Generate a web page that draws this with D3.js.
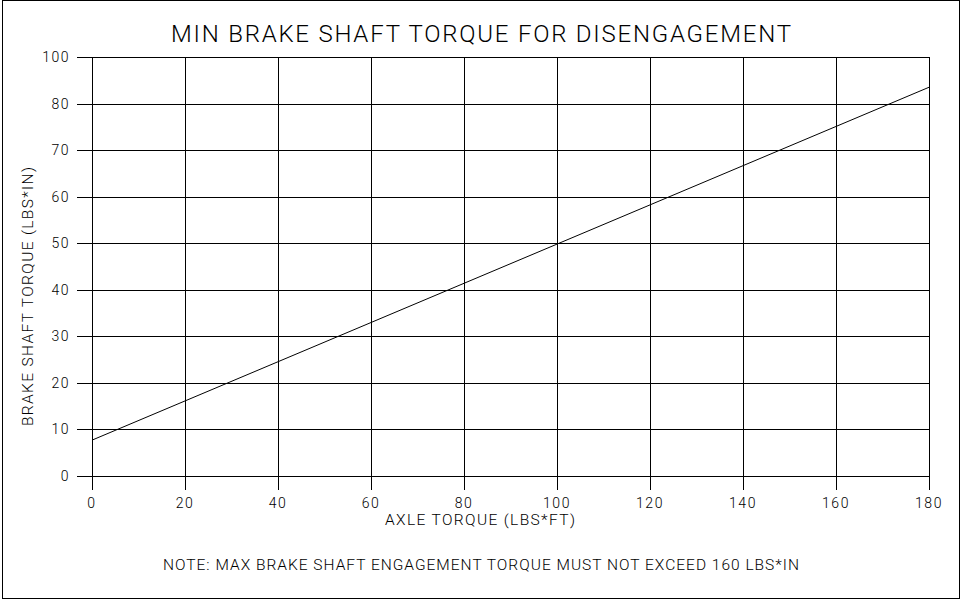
<!DOCTYPE html>
<html>
<head>
<meta charset="utf-8">
<script src="https://cdn.jsdelivr.net/npm/d3@7"></script>
<style>
  body { margin: 0; background: #fff; }
  svg text { font-family: "Roboto", "DejaVu Sans Condensed", sans-serif; font-weight: 300; fill: #000; }
</style>
</head>
<body>
<svg id="canvas" width="964" height="603"></svg>
<script>
const svg = d3.select("#canvas");

// data
const xTicks = [0, 20, 40, 60, 80, 100, 120, 140, 160, 180];
const yTicks = [0, 10, 20, 30, 40, 50, 60, 70, 80, 90];
const yTickLabels = ["0", "10", "20", "30", "40", "50", "60", "70", "80", "100"]; // top line is labelled 100 in the original
const axleTorque = [0, 180];
const brakeTorque = [7.7, 83.5];

const titleText = "MIN BRAKE SHAFT TORQUE FOR DISENGAGEMENT";
const xLabel = "AXLE TORQUE (LBS*FT)";
const yLabel = "BRAKE SHAFT TORQUE (LBS*IN)";
const noteText = "NOTE: MAX BRAKE SHAFT ENGAGEMENT TORQUE MUST NOT EXCEED 160 LBS*IN";

const plotL = 92, plotR = 929, plotT = 57, plotB = 476;

const x = d3.scaleLinear().domain([0, 180]).range([plotL, plotR]);
const y = d3.scaleLinear().domain([0, 90]).range([plotB, plotT]);

// outer frame
svg.append("rect")
    .attr("x", 2.5).attr("y", 0.5)
    .attr("width", 957).attr("height", 598)
    .attr("fill", "none").attr("stroke", "#000").attr("stroke-width", 1);

// grid
svg.selectAll(".vgrid")
    .data(xTicks)
    .enter()
    .append("line")
    .attr("x1", d => Math.round(x(d)) + 0.5)
    .attr("x2", d => Math.round(x(d)) + 0.5)
    .attr("y1", plotT)
    .attr("y2", plotB + 14)
    .attr("stroke", "#000");

svg.selectAll(".hgrid")
    .data(yTicks)
    .enter()
    .append("line")
    .attr("x1", plotL - 15)
    .attr("x2", plotR)
    .attr("y1", d => Math.round(y(d)) + 0.5)
    .attr("y2", d => Math.round(y(d)) + 0.5)
    .attr("stroke", "#000");

// tick labels
svg.selectAll(".xlab")
    .data(xTicks)
    .enter()
    .append("text")
    .attr("x", d => x(d))
    .attr("y", plotB + 32)
    .attr("text-anchor", "middle")
    .attr("font-size", 14)
    .attr("letter-spacing", 1.5)
    .text(d => d);

svg.selectAll(".ylab")
    .data(yTicks)
    .enter()
    .append("text")
    .attr("x", plotL - 22)
    .attr("y", d => y(d) + 5)
    .attr("text-anchor", "end")
    .attr("font-size", 14)
    .attr("letter-spacing", 1.5)
    .text((d, i) => yTickLabels[i]);

// curve
svg.append("path")
    .datum(axleTorque.map((a, i) => ({ a, b: brakeTorque[i] })))
    .attr("fill", "none")
    .attr("stroke", "#000")
    .attr("stroke-width", 1)
    .attr("d", d3.line().x(d => x(d.a)).y(d => y(d.b)));

// texts, stretched to the widths measured on the drawing
function label(txt, x0, len, base, size) {
    return svg.append("text")
        .attr("x", x0).attr("y", base)
        .attr("font-size", size)
        .attr("textLength", len)
        .attr("lengthAdjust", "spacing")
        .text(txt);
}

label(titleText, 171, 620, 42, 24);
label(xLabel, 385, 190, 525, 15.5);
label(noteText, 163, 636, 570, 15.5);

svg.append("text")
    .attr("transform", "translate(33,426) rotate(-90)")
    .attr("font-size", 15.5)
    .attr("textLength", 259)
    .attr("lengthAdjust", "spacing")
    .text(yLabel);
</script>
</body>
</html>
